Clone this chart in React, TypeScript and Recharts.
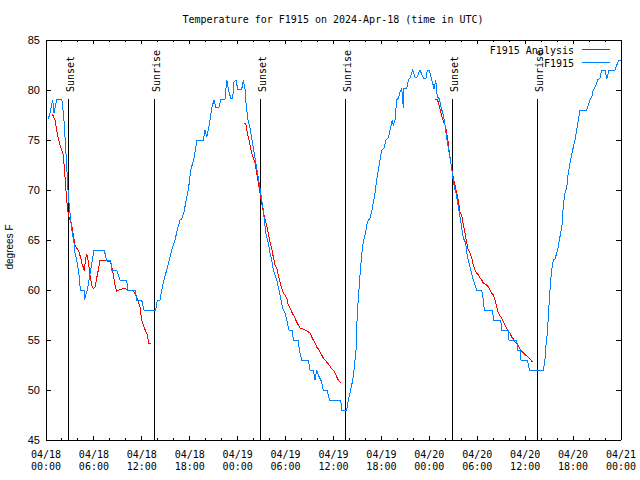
import { LineChart, Line, XAxis, YAxis, ReferenceLine } from "recharts";

// hours since 04/18 00:00 UTC
const stationHours = [
  0.29, 0.5, 0.71, 0.84, 1.0, 1.21, 1.34, 1.97, 2.09, 2.25, 2.38, 2.5, 2.69, 2.79, 3.01, 3.29, 3.51, 3.63, 3.92, 4.13,
  4.3, 4.76, 4.8, 4.97, 5.17, 5.38, 5.6, 5.8, 6.01, 7.3, 7.48, 7.6, 8.1, 8.23, 8.85, 9.27, 10.11, 10.23, 11.14, 11.36,
  11.98, 12.27, 13.74, 13.94, 14.28, 14.49, 14.78, 15.11, 15.44, 15.74, 16.15, 16.44, 16.78, 16.99, 17.28, 17.49,
  17.74, 17.94, 18.12, 18.37, 18.53, 18.75, 18.87, 19.7, 19.91, 20.12, 20.45, 20.62, 20.75, 21.04, 21.29, 21.66,
  21.91, 22.41, 22.63, 22.75, 22.92, 23.13, 23.38, 23.54, 23.79, 24.0, 24.51, 24.71, 24.92, 25.04, 25.26, 25.54,
  25.76, 25.96, 26.17, 26.38, 26.58, 26.8, 27.01, 27.21, 27.51, 27.84, 28.05, 28.26, 28.46, 28.89, 29.18, 29.43,
  29.64, 29.93, 30.14, 30.43, 30.84, 30.97, 31.59, 31.72, 32.02, 32.85, 33.06, 33.47, 33.68, 33.9, 34.1, 34.52,
  34.72, 35.22, 35.48, 36.9, 37.03, 37.65, 37.85, 38.15, 38.41, 38.57, 38.69, 38.82, 38.98, 39.16, 39.32, 39.53,
  39.73, 40.03, 40.23, 40.57, 40.78, 40.98, 41.2, 41.41, 41.61, 41.82, 42.04, 42.32, 42.57, 42.86, 43.08, 43.36,
  43.49, 43.7, 43.91, 44.12, 44.33, 44.54, 44.74, 44.83, 45.17, 45.37, 45.58, 45.92, 46.21, 46.42, 46.83, 47.25,
  47.58, 47.75, 48.0, 48.21, 48.42, 48.59, 48.8, 49.0, 49.25, 49.46, 49.75, 49.96, 50.18, 50.38, 50.59, 50.8,
  50.93, 51.13, 51.34, 51.55, 51.75, 51.97, 52.09, 52.25, 52.55, 52.76, 52.97, 53.18, 53.51, 53.72, 53.93, 54.56,
  54.76, 54.89, 55.94, 56.01, 56.94, 57.06, 57.89, 57.98, 58.94, 59.07, 59.35, 59.48, 60.27, 60.52, 62.27, 62.48,
  62.61, 62.77, 62.9, 63.02, 63.2, 63.36, 63.52, 63.74, 63.95, 64.15, 64.28, 64.45, 64.62, 64.7, 64.78, 64.99,
  65.2, 65.33, 65.53, 65.74, 65.95, 66.24, 66.46, 66.66, 66.87, 67.71, 67.91, 68.12, 68.33, 68.53, 68.87, 69.08,
  69.37, 69.58, 70.0, 70.21, 70.5, 71.25, 71.47, 71.75, 72.0,
];
const stationTemps = [
  77.1, 77.7, 78.5, 79, 77.7, 78.5, 79.1, 79.1, 78.3, 77, 75.3, 73.7, 71, 69.5, 67.7, 65.7, 64.7, 63.7, 62.7, 61.5,
  60, 60, 59, 59.5, 60, 61, 62, 63, 64, 64, 63.3, 63, 63, 62, 62, 61, 61, 60, 60, 59,
  59, 58, 58, 59, 59, 60, 61, 62, 63, 64, 65, 66, 67, 67.1, 67.8, 68.7,
  69.7, 70.7, 72, 72.7, 73.2, 74.2, 75, 75, 76, 75.3, 76.5, 77.5, 78.2, 79, 78.2, 78.3,
  79.1, 79, 81, 80.5, 79.8, 79.2, 79.2, 80.8, 81, 80.1, 80.1, 81, 80.1, 78.7, 77.1, 76.2,
  75.2, 74.2, 73.2, 72.2, 71.2, 70.2, 69, 68, 65.7, 64.7, 63.7, 63, 62, 61, 60, 59,
  58.2, 57.7, 57, 56, 56, 55, 55, 54, 53, 53, 52, 52, 51, 52, 51.5, 50.8,
  50, 50, 49, 49, 48, 48, 49, 50, 51, 52, 53, 54, 57.7, 59.7, 61.5, 63.5,
  64.8, 65.8, 66.8, 67.2, 67.8, 68.7, 69.7, 71, 72, 73, 74, 74.2, 75, 75.2, 76, 77,
  76.5, 77, 79, 79.2, 79.8, 80.2, 78.2, 80.2, 80.2, 81, 81.2, 82, 81.3, 81.2, 82, 81.2,
  81.2, 82, 82, 81.3, 80.7, 80.1, 81, 79.3, 79.1, 78.3, 77.5, 76.5, 75.2, 74.2, 73.2, 72.2,
  71.3, 70.3, 69.7, 68.7, 67.7, 66.7, 66, 65.2, 64.7, 63.3, 62.7, 62, 61, 60.5, 60, 60,
  59, 58, 58, 57, 57, 56, 56, 55, 55, 54, 54, 53, 53, 52, 52, 53,
  54.5, 55.7, 57.3, 59, 61, 62.2, 63, 63.1, 63.7, 64.3, 65, 65.7, 66.5, 67.5, 68.5, 69.7,
  70.2, 71.3, 72.3, 73.2, 74, 75, 76, 77, 78, 78, 78.5, 79, 79.3, 80, 80.5, 81,
  81.2, 82, 82, 81.1, 82, 82, 82.5, 83, 83,
];

// analysis runs; null marks the gap between runs
const analysisHours = [
  0.79, 1.13, 1.34, 1.54, 1.75, 2.17, 2.38, 2.59, 2.79, 2.92, 3.22, 3.42, 3.63, 3.84, 4.13, 4.35, 4.55, 4.67, 4.8,
  4.97, 5.1, 5.3, 5.51, 5.72, 5.92, 6.14, 6.35, 6.55, 6.76, 7.18, 7.6, 8.1, 8.23, 8.43, 8.64, 8.85, 9.18, 9.48,
  9.89, 10.18, 10.93, 11.27, 11.56, 11.77, 11.98, 12.27, 12.52, 12.73, 12.81, 13.11,
  18,
  24.83, 25.01, 25.13, 25.33, 25.54, 25.76, 25.96, 26.17, 26.38, 26.58, 26.8, 27.01, 27.21, 27.55, 27.84, 28.05,
  28.26, 28.46, 28.68, 28.89, 29.09, 29.3, 29.51, 29.71, 29.93, 30.14, 30.34, 30.55, 30.77, 30.97, 31.18, 31.39,
  31.59, 31.81, 32.22, 32.65, 33.06, 33.27, 33.47, 33.68, 33.9, 34.1, 34.31, 34.52, 34.72, 35.15, 35.56, 35.78,
  35.98, 36.19, 36.4, 36.6, 36.94,
  42,
  48.71, 49.0, 49.21, 49.42, 49.63, 49.84, 50.05, 50.18, 50.38, 50.5, 50.68, 50.88, 51.0, 51.22, 51.43, 51.63,
  51.84, 52.05, 52.25, 52.47, 52.68, 52.88, 53.09, 53.31, 53.51, 53.72, 53.93, 54.13, 54.35, 54.56, 54.76, 55.18,
  55.39, 55.6, 55.81, 56.01, 56.22, 56.44, 56.64, 56.85, 57.06, 57.26, 57.48, 57.69, 57.89, 58.1, 58.31, 58.52,
  58.73, 58.94, 59.14, 59.35, 59.77, 60.19, 60.61, 60.9,
];
const analysisTemps = [
  77.6, 77, 76, 75.2, 74.5, 73.5, 71.3, 69, 67.6, 67.2, 66.5, 65.5, 64.5, 64.2, 63.8, 63.2, 62.5, 62.3, 61.9,
  63.2, 63.6, 62.8, 61.5, 60.5, 60.1, 60.3, 61.2, 62, 63, 63, 62.9, 62.8, 62.3, 61.5, 60.5, 59.9, 60, 60.1,
  60.2, 60, 59.9, 59.5, 58.8, 58.3, 57, 56.3, 55.8, 55.5, 54.7, 54.7,
  null,
  76.7, 76.7, 76, 75.3, 74.5, 73.7, 73.2, 72.7, 71.7, 70.7, 69.7, 68.7, 67.8, 66.7, 65.7, 64.8,
  64.2, 63.3, 62.5, 62.2, 61.5, 60.8, 60.2, 59.7, 59.5, 59.2, 58.5, 58.2, 57.8, 57.5, 57.2, 56.8,
  56.5, 56.2, 56.1, 55.9, 55.7, 55.3, 55, 54.7, 54.3, 54.1, 53.8, 53.5, 53.2, 52.8, 52.4, 52.1,
  52, 51.7, 51.3, 51, 50.7,
  null,
  79.1, 79.1, 78.5, 77.8, 77.2, 76.7, 76.3, 75.7, 74.7, 73.7, 72.8, 71.8, 71.2, 70.5, 69.7, 69,
  67.8, 67.5, 66.5, 65.7, 64.7, 64, 63.7, 63.2, 62.5, 62, 61.7, 61.5, 61.2, 61, 60.7, 60.5,
  60.3, 60, 59.7, 59.5, 59, 58.3, 57.7, 57.4, 57.2, 56.8, 56.5, 56.2, 55.8, 55.7, 55.3, 55.1,
  54.8, 54.7, 54.4, 54.1, 53.7, 53.4, 53.1, 52.8,
];

const sunHours = [2.78, 13.56, 26.8, 37.48, 50.88, 61.52];
const sunLabels = ["Sunset", "Sunrise", "Sunset", "Sunrise", "Sunset", "Sunrise"];
const sunLineTop = 79.1;

const xTicks = [
  0, 2, 4, 6, 8, 10, 12, 14, 16, 18, 20, 22, 24, 26, 28, 30, 32, 34, 36, 38, 40, 42, 44, 46, 48, 50, 52, 54, 56,
  58, 60, 62, 64, 66, 68, 70, 72,
];
const xTickDates = ["04/18", "04/18", "04/18", "04/18", "04/19", "04/19", "04/19", "04/19", "04/20", "04/20", "04/20", "04/20", "04/21"];
const xTickTimes = ["00:00", "06:00", "12:00", "18:00", "00:00", "06:00", "12:00", "18:00", "00:00", "06:00", "12:00", "18:00", "00:00"];
const yTicks = [45, 50, 55, 60, 65, 70, 75, 80, 85];

const stationData = stationHours.map((h, i) => ({ h, temp: stationTemps[i] }));
const analysisData = analysisHours.map((h, i) => ({ h, temp: analysisTemps[i] }));

const MONO = "'DejaVu Sans Mono', monospace";
const SANS = "'Liberation Sans', Arial, sans-serif";
const PLOT_TOP = 40;
const PLOT_BOTTOM = 440;
const PLOT_LEFT = 46;
const PLOT_RIGHT = 621;
const RED = "#ff0000";
const BLUE = "#0080ff";

const XTick = (props: any) => {
  const { x, payload } = props;
  const v = payload.value as number;
  const major = v % 6 === 0;
  const len = major ? 4 : 2;
  const idx = v / 6;
  return (
    <g>
      <line x1={x} x2={x} y1={PLOT_BOTTOM} y2={PLOT_BOTTOM - len} stroke="#000" />
      <line x1={x} x2={x} y1={PLOT_TOP} y2={PLOT_TOP + len} stroke="#000" />
      {major && (
        <text x={x} textAnchor="middle" fontFamily={MONO} fontSize={10} fill="#000">
          <tspan x={x} y={458}>{xTickDates[idx]}</tspan>
          <tspan x={x} y={470}>{xTickTimes[idx]}</tspan>
        </text>
      )}
    </g>
  );
};

const YTick = (props: any) => {
  const { y, payload } = props;
  return (
    <g>
      <line x1={PLOT_LEFT} x2={PLOT_LEFT + 5} y1={y} y2={y} stroke="#000" />
      <line x1={PLOT_RIGHT} x2={PLOT_RIGHT - 5} y1={y} y2={y} stroke="#000" />
      <text x={40} y={y + 4} textAnchor="end" fontFamily={SANS} fontSize={11} fill="#000">
        {payload.value}
      </text>
    </g>
  );
};

const sunLabel = (text: string) => (props: any) => {
  const vb = props.viewBox || {};
  const ax = vb.x + 5.5;
  const ay = vb.y - 7;
  return (
    <text x={ax} y={ay} transform={`rotate(-90 ${ax} ${ay})`} fontFamily={MONO} fontSize={10} fill="#000">
      {text}
    </text>
  );
};

export default function App() {
  return (
    <div style={{ position: "absolute", left: 0, top: 0, width: 640, height: 480, background: "#fff" }}>
      <LineChart
        width={640}
        height={480}
        margin={{ top: 40, right: 19, bottom: 0, left: 0 }}
        style={{ shapeRendering: "crispEdges" }}
      >
        <XAxis
          type="number"
          dataKey="h"
          domain={[0, 72]}
          ticks={xTicks}
          interval={0}
          tick={<XTick />}
          tickLine={false}
          axisLine={{ stroke: "#000" }}
          height={40}
          allowDataOverflow
        />
        <YAxis
          type="number"
          domain={[45, 85]}
          ticks={yTicks}
          interval={0}
          tick={<YTick />}
          tickLine={false}
          axisLine={{ stroke: "#000" }}
          width={46}
          allowDataOverflow
        />
        <ReferenceLine y={85} stroke="#000" />
        <ReferenceLine x={72} stroke="#000" />
        {sunHours.map((h, i) => (
          <ReferenceLine
            key={i}
            segment={[
              { x: h, y: 45 },
              { x: h, y: sunLineTop },
            ]}
            stroke="#000"
            label={sunLabel(sunLabels[i])}
          />
        ))}
        <Line
          data={analysisData}
          dataKey="temp"
          type="linear"
          stroke={RED}
          strokeWidth={1}
          dot={false}
          connectNulls={false}
          isAnimationActive={false}
        />
        <Line
          data={stationData}
          dataKey="temp"
          type="linear"
          stroke={BLUE}
          strokeWidth={1}
          dot={false}
          isAnimationActive={false}
        />
      </LineChart>
      <svg width={640} height={480} style={{ position: "absolute", left: 0, top: 0, pointerEvents: "none" }}>
        <text x={333} y={23} textAnchor="middle" fontFamily={MONO} fontSize={10} fill="#000">
          Temperature for F1915 on 2024-Apr-18 (time in UTC)
        </text>
        <text x={13} y={247} textAnchor="middle" transform="rotate(-90 13 247)" fontFamily={SANS} fontSize={10} fill="#000">
          degrees F
        </text>
        <text x={574} y={53.5} textAnchor="end" fontFamily={MONO} fontSize={10} fill="#000">
          F1915 Analysis
        </text>
        <line x1={582} x2={610} y1={49.5} y2={49.5} stroke={RED} shapeRendering="crispEdges" />
        <text x={574} y={66.5} textAnchor="end" fontFamily={MONO} fontSize={10} fill="#000">
          F1915
        </text>
        <line x1={582} x2={610} y1={62.5} y2={62.5} stroke={BLUE} shapeRendering="crispEdges" />
      </svg>
    </div>
  );
}
